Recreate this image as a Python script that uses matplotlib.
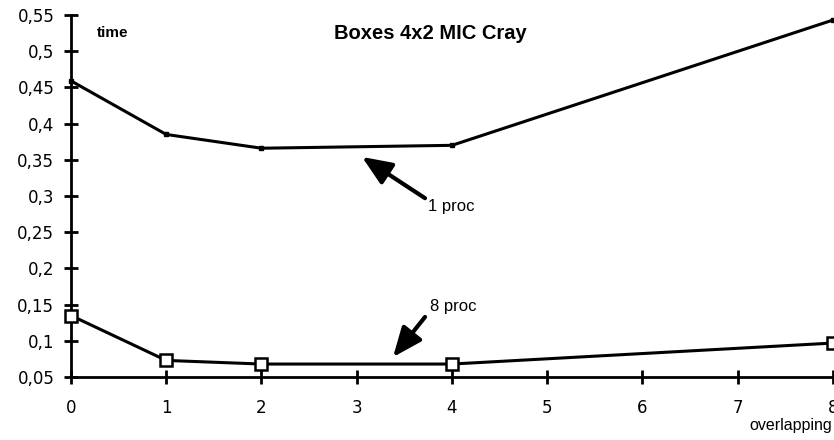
import matplotlib
matplotlib.use("Agg")
import matplotlib.pyplot as plt
from matplotlib.ticker import FuncFormatter

# data
overlap = [0, 1, 2, 4, 8]
time_1proc = [0.459, 0.385, 0.366, 0.370, 0.543]
time_8proc = [0.135, 0.073, 0.068, 0.068, 0.097]
x_ticks = [0, 1, 2, 3, 4, 5, 6, 7, 8]
y_ticks = [0.05, 0.1, 0.15, 0.2, 0.25, 0.3, 0.35, 0.4, 0.45, 0.5, 0.55]

fig = plt.figure(figsize=(8.34, 4.40), dpi=100)
ax = fig.add_axes([0.0851, 0.143, 0.9137, 0.823])
ax.set_xlim(0, 8)
ax.set_ylim(0.05, 0.55)

ax.plot(overlap, time_1proc, color='black', lw=2.2, marker='s', ms=3,
        mfc='black', mec='black', clip_on=False, zorder=3)
ax.plot(overlap, time_8proc, color='black', lw=2.2, marker='s', ms=8,
        mfc='white', mec='black', mew=1.8, clip_on=False, zorder=3)

for s in ['top', 'right']:
    ax.spines[s].set_visible(False)
for s in ['left', 'bottom']:
    ax.spines[s].set_linewidth(2)

ax.set_xticks(x_ticks)
ax.set_yticks(y_ticks)
ax.yaxis.set_major_formatter(FuncFormatter(lambda v, p: f"{v:g}".replace('.', ',')))
ax.tick_params(direction='inout', length=10, width=2, labelsize=12, pad=7)
ax.tick_params(axis='x', pad=11)
for lab in ax.get_xticklabels() + ax.get_yticklabels():
    lab.set_fontfamily('DejaVu Sans')

tf = 'Liberation Sans'
ax.text(0.034, 0.95, 'time', transform=ax.transAxes, fontsize=11,
        fontweight='bold', family=tf, va='center', ha='left')
ax.text(0.472, 0.95, 'Boxes 4x2 MIC Cray', transform=ax.transAxes, fontsize=14.5,
        fontweight='bold', family=tf, va='center', ha='center')
ax.text(0.999, -0.135, 'overlapping', transform=ax.transAxes, fontsize=11.5,
        family=tf, va='center', ha='right', clip_on=False)

arrow = dict(arrowstyle='-|>,head_length=1.2,head_width=0.5',
             color='black', lw=3, shrinkA=0, shrinkB=0, mutation_scale=15)
ax.annotate('', xy=(3.055, 0.354), xytext=(3.717, 0.297), arrowprops=arrow)
ax.text(3.748, 0.286, '1 proc', fontsize=12, family=tf, va='center', ha='left')
ax.annotate('', xy=(3.381, 0.0776), xytext=(3.717, 0.133), arrowprops=arrow)
ax.text(3.769, 0.148, '8 proc', fontsize=12, family=tf, va='center', ha='left')

fig.savefig('out.png', dpi=100)
